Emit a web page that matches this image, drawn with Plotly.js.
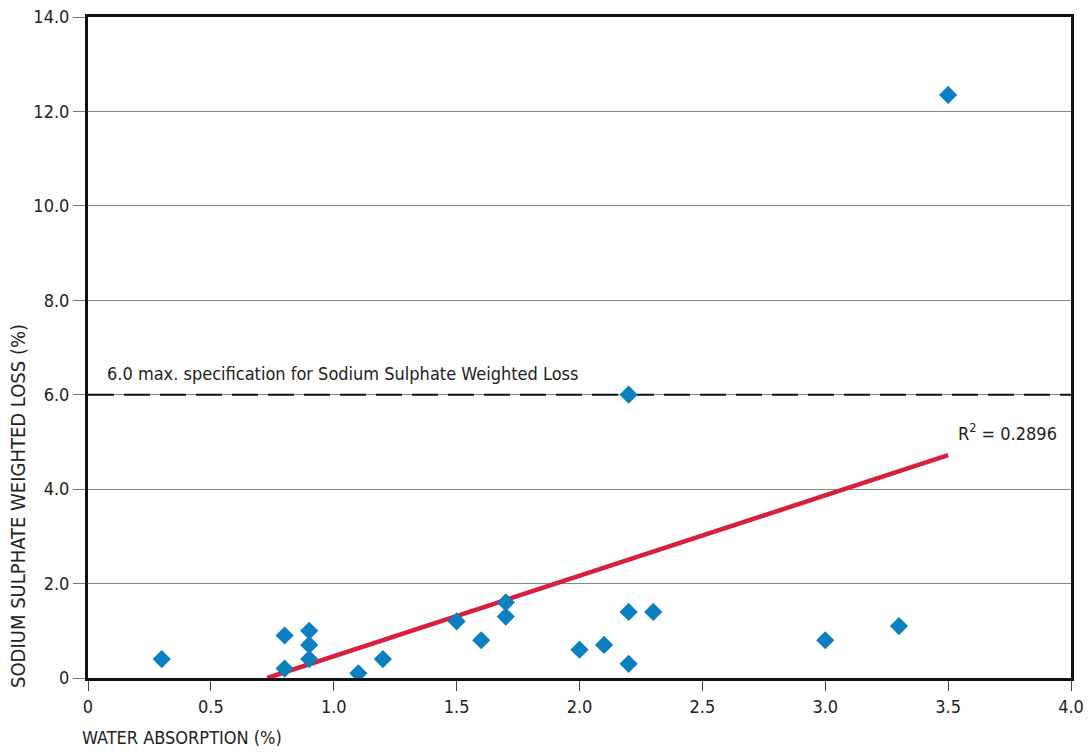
<!DOCTYPE html>
<html>
<head>
<meta charset="utf-8">
<script src="https://cdn.plot.ly/plotly-3.0.1.min.js"></script>
<style>html,body{margin:0;padding:0;background:#fff;}#chart{width:1091px;height:752px;}</style>
</head>
<body>
<div id="chart"></div>
<script>
// Water absorption vs sodium sulphate weighted loss, one point per sample
const absorption = [0.3, 0.8, 0.8, 0.9, 0.9, 0.9, 1.1, 1.2, 1.5, 1.6, 1.7, 1.7, 2.0, 2.1, 2.2, 2.2, 2.3, 3.0, 3.3, 2.2, 3.5];
const sulphateLoss = [0.4, 0.9, 0.2, 1.0, 0.7, 0.4, 0.1, 0.4, 1.2, 0.8, 1.6, 1.3, 0.6, 0.7, 1.4, 0.3, 1.4, 0.8, 1.1, 6.0, 12.35];

// Linear trend line end points
const trendX = [0.73, 3.5];
const trendY = [0.0, 4.72];
const rSquared = "0.2896";

// Specification limit
const specLimit = 6.0;
const specLabel = "6.0 max. specification for Sodium Sulphate Weighted Loss";

const xTickVals = [0, 0.5, 1.0, 1.5, 2.0, 2.5, 3.0, 3.5, 4.0];
const xTickText = ["0", "0.5", "1.0", "1.5", "2.0", "2.5", "3.0", "3.5", "4.0"];
const yTickVals = [0, 2, 4, 6, 8, 10, 12, 14];
const yTickText = ["0", "2.0", "4.0", "6.0", "8.0", "10.0", "12.0", "14.0"];

const FONT = "'Liberation Sans Narrow', 'DejaVu Sans Condensed', 'Roboto Condensed', Arial, sans-serif";

const traces = [
  {
    x: [0, 4.0], y: [specLimit, specLimit], mode: "lines",
    line: {color: "#111", width: 2, dash: "26px,10px"},
    hoverinfo: "skip", showlegend: false
  },
  {
    x: trendX, y: trendY, mode: "lines",
    line: {color: "#d91f3d", width: 4.5},
    hoverinfo: "skip", showlegend: false
  },
  {
    x: absorption, y: sulphateLoss, mode: "markers",
    marker: {symbol: "diamond", size: 14, color: "#0a80c0"},
    showlegend: false
  }
];

// Plot area size in pixels, used to place the axis titles
const M = {l: 88, r: 20, t: 17, b: 74};
const pw = 1091 - M.l - M.r, ph = 752 - M.t - M.b;

const layout = {
  width: 1091, height: 752,
  margin: M,
  paper_bgcolor: "#fff", plot_bgcolor: "#fff",
  font: {family: FONT, size: 18, color: "#222"},
  xaxis: {
    range: [0, 4.0], tickvals: xTickVals, ticktext: xTickText,
    ticks: "outside", ticklen: 10, tickcolor: "#444", tickwidth: 1,
    showgrid: false, zeroline: false,
    showline: true, linecolor: "#111", linewidth: 3, mirror: true,
    tickfont: {family: FONT, size: 18, color: "#222"}
  },
  yaxis: {
    range: [0, 14.0], tickvals: yTickVals, ticktext: yTickText,
    ticks: "outside", ticklen: 12, tickcolor: "#777", tickwidth: 1,
    showgrid: true, gridcolor: "#888", gridwidth: 1,
    zeroline: false,
    showline: true, linecolor: "#111", linewidth: 3, mirror: true,
    tickfont: {family: FONT, size: 18, color: "#222"}
  },
  annotations: [
    {
      x: 0.07, y: 6.45, xref: "x", yref: "y", xanchor: "left", yanchor: "middle",
      text: specLabel, showarrow: false,
      font: {family: FONT, size: 18, color: "#222"}
    },
    {
      x: 3.53, y: 5.2, xref: "x", yref: "y", xanchor: "left", yanchor: "middle",
      text: "R<sup>2</sup> = " + rSquared, showarrow: false,
      font: {family: FONT, size: 18, color: "#222"}
    },
    {
      xref: "paper", yref: "paper",
      x: (80 - M.l) / pw, y: (752 - M.b - 737) / ph,
      showarrow: false, xanchor: "left", yanchor: "middle",
      text: "WATER ABSORPTION (%)",
      font: {family: FONT, size: 18, color: "#222"}
    },
    {
      xref: "paper", yref: "paper",
      x: (18 - M.l) / pw, y: (752 - M.b - 506) / ph,
      showarrow: false, xanchor: "center", yanchor: "middle", textangle: -90,
      text: "SODIUM SULPHATE WEIGHTED LOSS (%)",
      font: {family: FONT, size: 20, color: "#222"}
    }
  ]
};

Plotly.newPlot("chart", traces, layout, {displayModeBar: false, staticPlot: true});
</script>
</body>
</html>
